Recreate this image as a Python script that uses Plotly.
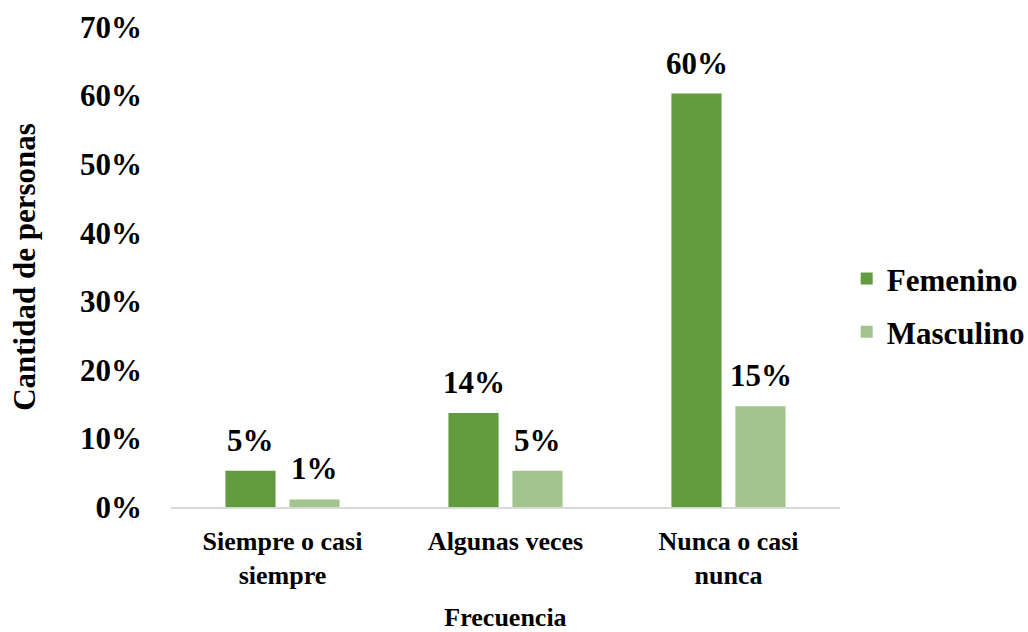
import plotly.graph_objects as go

# Survey frequency by gender (share of people)
categories = ["Siempre o casi<br>siempre", "Algunas veces", "Nunca o casi<br>nunca"]
femenino = [0.053, 0.137, 0.603]
masculino = [0.011, 0.053, 0.147]
y_ticks = [0.0, 0.1, 0.2, 0.3, 0.4, 0.5, 0.6, 0.7]

FONT = "Liberation Serif"
C_FEM = "#639B41"
C_MAS = "#A3C48E"

fig = go.Figure()
fig.add_trace(go.Bar(
    name="Femenino", x=categories, y=femenino,
    marker=dict(color=C_FEM, line=dict(width=0)),
    width=0.225, offset=-0.256, legendgroup="f",
))
fig.add_trace(go.Bar(
    name="Masculino", x=categories, y=masculino,
    marker=dict(color=C_MAS, line=dict(width=0)),
    width=0.225, offset=0.031, legendgroup="m",
))

# value labels above each bar
annotations = []
for vals, shift in ((femenino, -32), (masculino, 32)):
    for cat, v in zip(categories, vals):
        annotations.append(dict(
            x=cat, y=v, xref="x", yref="y", text=f"<b>{v:.0%}</b>",
            showarrow=False, xshift=shift, yshift=11, yanchor="bottom",
            font=dict(family=FONT, size=31, color="#000000"),
        ))

fig.update_layout(
    width=1028, height=632,
    margin=dict(l=171, r=188, t=27, b=125, autoexpand=False),
    paper_bgcolor="white", plot_bgcolor="white",
    barmode="group",
    showlegend=True,
    legend=dict(
        x=1.01, xanchor="left", y=0.42, yanchor="middle",
        font=dict(family=FONT, size=31, color="#000000"),
        tracegroupgap=10, itemclick=False,
    ),
    annotations=annotations,
    xaxis=dict(
        showline=True, linecolor="#D9D9D9", linewidth=2,
        showgrid=False, ticks="", ticklabelstandoff=10,
        tickfont=dict(family=FONT, size=26, color="#000000"),
        title=dict(text="<b>Frecuencia</b>", standoff=20,
                   font=dict(family=FONT, size=26, color="#000000")),
    ),
    yaxis=dict(
        range=[0, 0.7], tickvals=y_ticks, tickformat=".0%",
        showline=False, showgrid=False, zeroline=False, ticks="",
        ticklabelstandoff=28,
        tickfont=dict(family=FONT, size=31, color="#000000"),
        title=dict(text="<b>Cantidad de personas</b>", standoff=35,
                   font=dict(family=FONT, size=31, color="#000000")),
    ),
)

# bold tick labels
fig.update_xaxes(ticktext=[f"<b>{c}</b>" for c in categories], tickvals=categories)
fig.update_yaxes(ticktext=[f"<b>{t:.0%}</b>" for t in y_ticks])
fig.for_each_trace(lambda t: t.update(name=f"<b>{t.name}</b>"))

fig.write_html("out.html")
